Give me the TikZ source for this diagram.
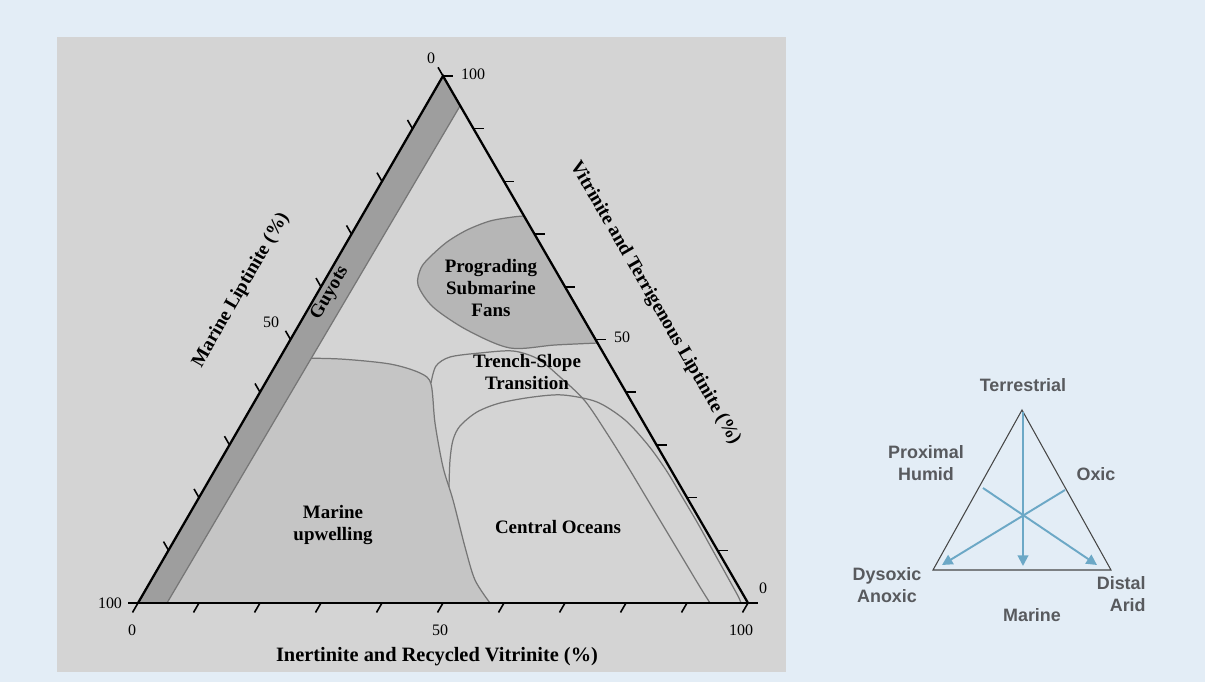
\documentclass[tikz,border=0pt]{standalone}
\usepackage{fontspec}
\setmainfont{Liberation Serif}
\newfontfamily\sansb{Liberation Sans}
\usetikzlibrary{arrows.meta}
\definecolor{bgblue}{RGB}{227,237,246}
\definecolor{panelgray}{RGB}{212,212,212}
\definecolor{guyotgray}{RGB}{158,158,158}
\definecolor{fangray}{RGB}{182,182,182}
\definecolor{upwellgray}{RGB}{197,197,197}
\definecolor{zoneline}{RGB}{118,118,118}
\definecolor{labgray}{RGB}{88,90,94}
\definecolor{arrowblue}{RGB}{108,168,198}
\definecolor{smallline}{RGB}{70,70,70}
\begin{document}
\begin{tikzpicture}[x=0.02cm,y=-0.02cm,
  edge/.style={line width=1.3pt, black},
  tickmark/.style={line width=0.9pt, black},
  zone/.style={draw=zoneline, line width=0.7pt},
  num/.style={font=\fontsize{9.1}{11}\selectfont, inner sep=0pt},
  axtitle/.style={font=\bfseries\fontsize{11}{13}\selectfont, inner sep=0pt},
  zlabel/.style={font=\bfseries\fontsize{10.8}{12.8}\selectfont, align=center, inner sep=0pt},
  slabel/.style={font=\sansb\bfseries\fontsize{10.2}{12.5}\selectfont, text=labgray, align=center, inner sep=0pt},
  flow/.style={draw=arrowblue, line width=1.1pt, -{Triangle[length=6pt,width=6pt]}},
  smalltri/.style={draw=smallline, line width=0.6pt}
]
\useasboundingbox (0,0) rectangle (1205,682);
\fill[bgblue] (0,0) rectangle (1205,682);
\fill[panelgray] (57,37) rectangle (786,672);

% triangle corners
\coordinate (A) at (443,76);
\coordinate (L) at (138,603);
\coordinate (R) at (748,603);

% marine upwelling
\fill[upwellgray] plot[smooth] coordinates {(290,358) (340,359) (390,364) (420,373) (431,384) (435,423) (443,467) (453,500) (465,547) (475,580) (490,603)} -- (160,603) -- cycle;
\draw[zone] plot[smooth] coordinates {(290,358) (340,359) (390,364) (420,373) (431,384) (435,423) (443,467) (453,500) (465,547) (475,580) (490,603)};

% prograding submarine fans
\filldraw[zone, fill=fangray] plot[smooth] coordinates {(598,343) (555,345) (510,348) (467,330) (433,307) (418,285) (421,268) (430,257) (447,242) (467,230) (490,221) (513,217) (524,216)} -- cycle;

% guyots band
\fill[guyotgray] (L) -- (A) -- (460,106) -- (167,603) -- cycle;
\draw[zone] (460,106) -- (167,603);

% trench-slope boundary
\draw[zone] plot[smooth] coordinates {(431,383) (436,366) (450,357) (480,353) (513,351) (538,359) (560,377) (585,401) (608,435) (628,467) (646,497) (664,527) (682,557) (700,587) (710,603)};
% central oceans boundary
\draw[zone] plot[smooth] coordinates {(449,487) (450,460) (453,440) (460,426) (477,412) (500,403) (533,397) (563,395) (597,402) (625,420) (648,445) (666,470) (681,495) (697,522) (712,549) (727,576) (738,596) (741,603)};

% triangle edges
\draw[edge] (R) -- (A) -- (L);
\draw[edge] (128,603) -- (758,603);

% ticks
\foreach \k in {0,...,10} \draw[tickmark] ({138+61*\k},603) -- ++(-5.5,9.5);
\foreach \k in {0,...,9} \draw[tickmark] ({443+30.5*\k},{76+52.7*\k}) -- ++(10,0);
\foreach \k in {1,...,10} \draw[tickmark] ({138+30.5*\k},{603-52.7*\k}) -- ++(-5,-8.7);

% numbers
\node[num] (b0) at (132,630) {0};
\node[num] (b50) at (440,630) {50};
\node[num] (b100) at (741,630) {100};
\node[num] (l100) at (110,603) {100};
\node[num] (l50) at (271,322) {50};
\node[num] (l0) at (431,58) {0};
\node[num] (r100) at (473,74) {100};
\node[num] (r50) at (622,337) {50};
\node[num] (r0) at (763,588) {0};

% axis titles
\node[axtitle, font=\bfseries\fontsize{11.6}{13}\selectfont] (tbot) at (437,657) {Inertinite and Recycled Vitrinite (\%)};
\node[axtitle, rotate=60] (tleft) at (241,290) {Marine Liptinite (\%)};
\node[axtitle, rotate=-60] (tright) at (655,303) {Vitrinite and Terrigenous Liptinite (\%)};

% zone labels
\node[zlabel, rotate=60] (guy) at (330,293) {Guyots};
\node[zlabel] (fans) at (491,288) {Prograding\\Submarine\\Fans};
\node[zlabel] (trench) at (527,372) {Trench-Slope\\Transition};
\node[zlabel] (central) at (558,527) {Central Oceans};
\node[zlabel] (upw) at (333,525) {Marine\\upwelling};

% small explanatory triangle
\coordinate (ta) at (1022,410);
\coordinate (tl) at (933,570);
\coordinate (tr) at (1111,570);
\draw[smalltri] (ta) -- (tl) -- (tr) -- cycle;
\coordinate (v0) at (1023,412);
\coordinate (v1) at (1023,566);
\coordinate (d0) at (1065,490);
\coordinate (d1) at (942,565);
\coordinate (e0) at (983,488);
\coordinate (e1) at (1097,565);
\draw[flow] (v0) -- (v1);
\draw[flow] (d0) -- (d1);
\draw[flow] (e0) -- (e1);

\node[slabel] (terr) at (1023,385) {Terrestrial};
\node[slabel] (prox) at (926,463) {Proximal\\Humid};
\node[slabel] (oxic) at (1096,474) {Oxic};
\node[slabel] (dys) at (887,585) {Dysoxic\\Anoxic};
\node[slabel] (mar) at (1032,615) {Marine};
\node[slabel, align=right, anchor=east] (dist) at (1146,594) {Distal\\Arid};
\end{tikzpicture}
\end{document}
